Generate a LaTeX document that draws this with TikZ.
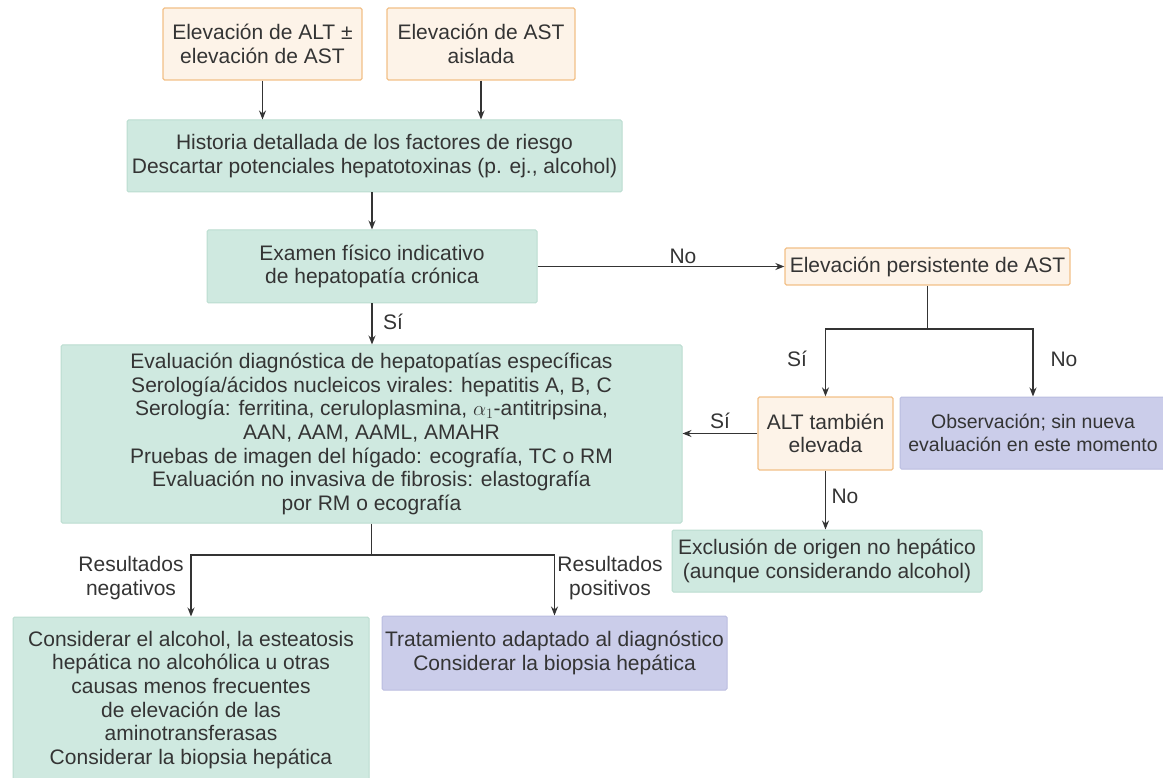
\documentclass[tikz,border=0pt]{standalone}
\usepackage{amsmath}
\usepackage{fontspec}
\setmainfont{Liberation Sans}
\usepackage{tikz}
\usetikzlibrary{positioning}
\usetikzlibrary{arrows.meta}

\definecolor{tealfill}{RGB}{207,233,224}
\definecolor{tealline}{RGB}{186,220,208}
\definecolor{peachfill}{RGB}{253,243,232}
\definecolor{peachline}{RGB}{242,192,135}
\definecolor{lilacfill}{RGB}{203,205,234}
\definecolor{lilacline}{RGB}{186,189,224}
\definecolor{inkgray}{RGB}{52,52,52}

\tikzset{
    box/.style={rectangle, rounded corners=1.5pt, align=center, inner sep=0pt,
        line width=1pt, text=inkgray, font=\fontsize{21}{23.7}\selectfont}, % caja base
    tealbox/.style={box, fill=tealfill, draw=tealline},
    peachbox/.style={box, fill=peachfill, draw=peachline, line width=1.3pt},
    lilacbox/.style={box, fill=lilacfill, draw=lilacline},
    lbl/.style={align=center, inner sep=0pt, text=inkgray, font=\fontsize{21}{23.7}\selectfont}, % etiquetas de las flechas
    arr/.style={-{Stealth[length=9pt, width=7pt]}, line width=1.3pt, draw=inkgray},
    seg/.style={line width=1.3pt, draw=inkgray}
}

\begin{document}
\begin{tikzpicture}[x=1pt, y=-1pt]

    \useasboundingbox (0,0) rectangle (1163,778);

    % entradas
    \node[peachbox, minimum width=199pt, minimum height=72pt] (alt) at (262.5,44)
        {Elevación de ALT ±\\elevación de AST};
    \node[peachbox, minimum width=188pt, minimum height=72pt] (ast) at (481,44)
        {Elevación de AST\\aislada};

    \node[tealbox, minimum width=495pt, minimum height=72pt] (historia) at (374.5,156)
        {Historia detallada de los factores de riesgo\\Descartar potenciales hepatotoxinas (p. ej., alcohol)};

    \node[tealbox, minimum width=330pt, minimum height=73pt] (examen) at (372,266.5)
        {Examen físico indicativo\\de hepatopatía crónica};

    \node[peachbox, minimum width=285pt, minimum height=37pt] (persist) at (927.5,266.5)
        {Elevación persistente de AST};

    \node[tealbox, minimum width=621pt, minimum height=178pt] (evaluacion) at (371.5,434)
        {Evaluación diagnóstica de hepatopatías específicas\\
         Serología/ácidos nucleicos virales: hepatitis A, B, C\\
         Serología: ferritina, ceruloplasmina, $\alpha_1$-antitripsina,\\
         AAN, AAM, AAML, AMAHR\\
         Pruebas de imagen del hígado: ecografía, TC o RM\\
         Evaluación no invasiva de fibrosis: elastografía\\
         por RM o ecografía};

    \node[peachbox, minimum width=135pt, minimum height=73pt] (altelev) at (825.5,433.5)
        {ALT también\\elevada};
    \node[lilacbox, minimum width=266pt, minimum height=72pt,
          font=\fontsize{19.5}{23.7}\selectfont] (observ) at (1033,433)
        {Observación; sin nueva\\evaluación en este momento};

    \node[tealbox, minimum width=310pt, minimum height=62pt] (exclusion) at (827,561)
        {Exclusión de origen no hepático\\(aunque considerando alcohol)};

    % resultados
    \node[tealbox, minimum width=356pt, minimum height=166pt] (negativo) at (191,700)
        {Considerar el alcohol, la esteatosis\\
         hepática no alcohólica u otras\\
         causas menos frecuentes\\
         de elevación de las\\
         aminotransferasas\\
         Considerar la biopsia hepática};
    \node[lilacbox, minimum width=345pt, minimum height=74pt] (positivo) at (554.5,653)
        {Tratamiento adaptado al diagnóstico\\Considerar la biopsia hepática};

    \coordinate (split1) at (927.5,329);
    \coordinate (split2) at (371.5,555);

    % conectores
    \draw[arr] (alt.south) -- (alt.south |- historia.north);
    \draw[arr] (ast.south) -- (ast.south |- historia.north);
    \draw[arr] (examen.north |- historia.south) -- (examen.north);
    \draw[arr] (examen.east) -- (persist.west);
    \draw[arr] (examen.south) -- (examen.south |- evaluacion.north);
    \draw[seg] (persist.south) -- (split1);
    \draw[arr] (split1) -| (altelev.north);
    \draw[arr] (split1) -| (observ.north);
    \draw[arr] (altelev.west) -- (evaluacion.east |- altelev.west);
    \draw[arr] (altelev.south) -- (altelev.south |- exclusion.north);
    \draw[seg] (evaluacion.south) -- (split2);
    \draw[arr] (split2) -| (negativo.north);
    \draw[arr] (split2) -| (positivo.north);

    % etiquetas
    \node[lbl] (noexam) at (683,256) {No};
    \node[lbl] (siexam) at (393,322) {Sí};
    \node[lbl] (sipers) at (797,359) {Sí};
    \node[lbl] (nopers) at (1064,359) {No};
    \node[lbl] (sialt) at (720,421) {Sí};
    \node[lbl] (noalt) at (845,496) {No};
    \node[lbl] (resneg) at (131,578) {Resultados\\negativos};
    \node[lbl] (respos) at (610,578) {Resultados\\positivos};

\end{tikzpicture}
\end{document}
